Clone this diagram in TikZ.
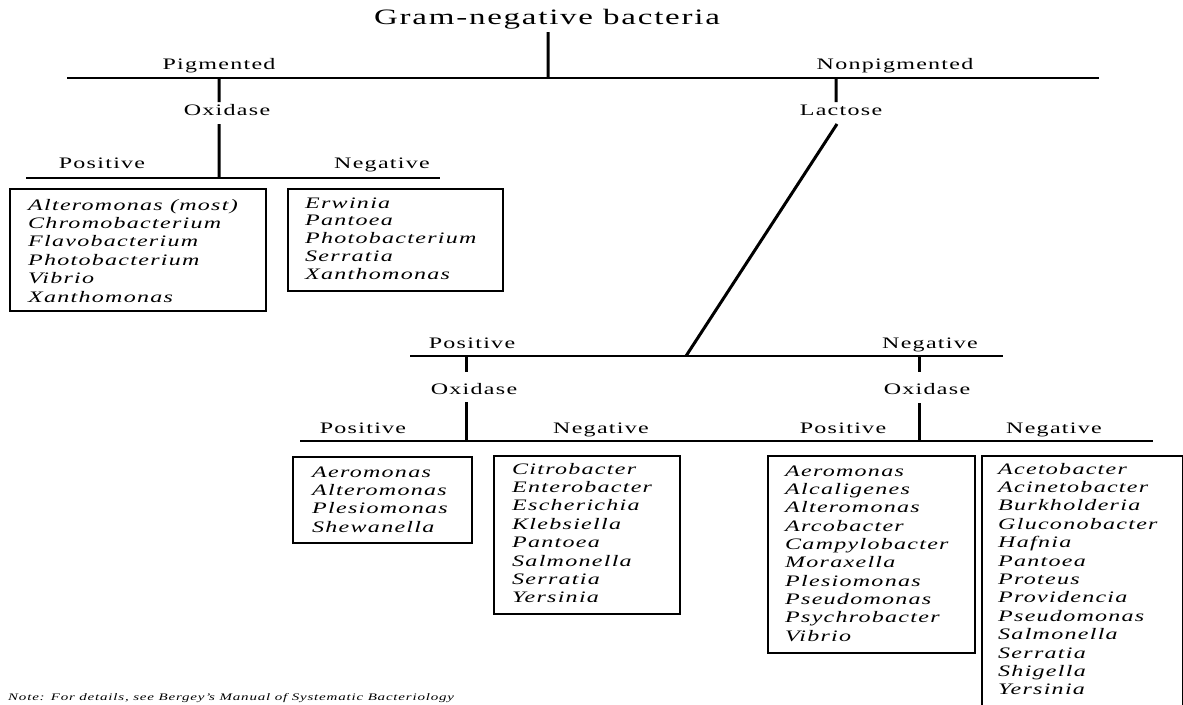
\documentclass[tikz,border=0pt]{standalone}
\usepackage{fontspec}
\setmainfont{Liberation Serif}[FakeStretch=1.5,LetterSpace=8]
\tikzset{lbl/.style={anchor=base,inner sep=0pt,font=\fontsize{16}{19}\selectfont},
  genus/.style={anchor=base west,inner sep=0pt,font=\fontsize{16}{19}\selectfont\itshape},
  gbox/.style={draw,line width=2.2pt,anchor=north west,inner sep=0pt},
  stem/.style={line width=3pt},bar/.style={line width=2pt}}
\begin{document}
\begin{tikzpicture}[x=1pt,y=-1pt]
\useasboundingbox (0,0) rectangle (1183,704);
% branch points
\coordinate (t1) at (548,32);\coordinate (t2) at (548,78);\coordinate (topL) at (67,78);\coordinate (topR) at (1099,78);
\coordinate (pg) at (219,78);\coordinate (pgo) at (219,102);\coordinate (oxa1) at (219,124);\coordinate (oxa2) at (219,178);
\coordinate (l1L) at (26,178);\coordinate (l1R) at (440,178);
\coordinate (np) at (836,78);\coordinate (npl) at (836,102);\coordinate (lac1) at (837,124);\coordinate (lac2) at (686,356);
\coordinate (l2L) at (410,356);\coordinate (l2R) at (1003,356);
\coordinate (pp) at (466,356);\coordinate (ppo) at (466,372);\coordinate (oxb1) at (466,402);\coordinate (oxb2) at (466,441);
\coordinate (nn) at (919,356);\coordinate (nno) at (919,372);\coordinate (oxc1) at (919,403);\coordinate (oxc2) at (919,441);
\coordinate (l3L) at (300,441);\coordinate (l3R) at (1153,441);
% labels
\node[lbl,font=\fontsize{22}{26}\selectfont] (gram) at (547,24) {Gram-negative bacteria};
\node[lbl] (pigm) at (219,69) {Pigmented};\node[lbl] (nonpigm) at (895,69) {Nonpigmented};
\node[lbl] (oxa) at (227,115) {Oxidase};\node[lbl] (lac) at (841,115) {Lactose};
\node[lbl] (posa) at (102,168) {Positive};\node[lbl] (nega) at (382,168) {Negative};
\node[lbl] (lacpos) at (472,348) {Positive};\node[lbl] (lacneg) at (930,348) {Negative};
\node[lbl] (oxb) at (474,394) {Oxidase};\node[lbl] (oxc) at (927,394) {Oxidase};
\node[lbl] (posb) at (363,433) {Positive};\node[lbl] (negb) at (601,433) {Negative};
\node[lbl] (posc) at (843,433) {Positive};\node[lbl] (negc) at (1054,433) {Negative};
% tree
\draw[bar] (topL)--(topR) (l1L)--(l1R) (l2L)--(l2R) (l3L)--(l3R);
\draw[stem] (t1)--(t2) (pg)--(pgo) (oxa1)--(oxa2) (np)--(npl) (lac1)--(lac2);
\draw[stem] (pp)--(ppo) (oxb1)--(oxb2) (nn)--(nno) (oxc1)--(oxc2);
% genus boxes
\node[gbox,minimum width=256pt,minimum height=122pt] (boxa) at (9,188) {};
\node[gbox,minimum width=215pt,minimum height=102pt] (boxb) at (287,188) {};
\node[gbox,minimum width=179pt,minimum height=86pt] (boxc) at (292,456) {};
\node[gbox,minimum width=186pt,minimum height=158pt] (boxd) at (493,455) {};
\node[gbox,minimum width=207pt,minimum height=197pt] (boxe) at (767,455) {};
\node[gbox,minimum width=201pt,minimum height=270pt] (boxf) at (981,455) {};
\foreach\g [count=\i from 0] in {Alteromonas (most),Chromobacterium,Flavobacterium,Photobacterium,Vibrio,Xanthomonas}
  \node[genus] (ga\i) at (28,210+18.4*\i) {\g};
\foreach\g [count=\i from 0] in {Erwinia,Pantoea,Photobacterium,Serratia,Xanthomonas}
  \node[genus] (gb\i) at (305,208+17.8*\i) {\g};
\foreach\g [count=\i from 0] in {Aeromonas,Alteromonas,Plesiomonas,Shewanella}
  \node[genus] (gc\i) at (312,477+18.4*\i) {\g};
\foreach\g [count=\i from 0] in {Citrobacter,Enterobacter,Escherichia,Klebsiella,Pantoea,Salmonella,Serratia,Yersinia}
  \node[genus] (gd\i) at (512,474+18.4*\i) {\g};
\foreach\g [count=\i from 0] in {Aeromonas,Alcaligenes,Alteromonas,Arcobacter,Campylobacter,Moraxella,Plesiomonas,Pseudomonas,Psychrobacter,Vibrio}
  \node[genus] (ge\i) at (785,476+18.35*\i) {\g};
\foreach\g [count=\i from 0] in {Acetobacter,Acinetobacter,Burkholderia,Gluconobacter,Hafnia,Pantoea,Proteus,Providencia,Pseudomonas,Salmonella,Serratia,Shigella,Yersinia}
  \node[genus] (gf\i) at (998,474+18.4*\i) {\g};
\node[genus,font=\fontsize{10}{12}\selectfont\itshape] (note) at (8,700) {Note: For details, see Bergey's Manual of Systematic Bacteriology};
\end{tikzpicture}
\end{document}
